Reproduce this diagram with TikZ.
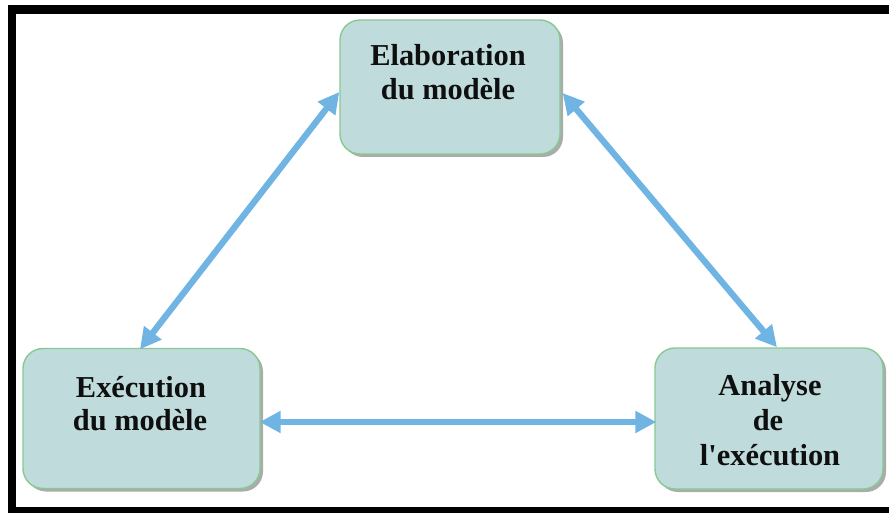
\documentclass[tikz,border=0pt]{standalone}
\usepackage{fontspec}
\setmainfont{Liberation Serif}
\usetikzlibrary{arrows.meta,shadows}

\definecolor{boxfill}{RGB}{192,219,219}
\definecolor{boxline}{RGB}{134,202,146}
\definecolor{flow}{RGB}{112,180,228}
\definecolor{ink}{RGB}{15,15,15}

\tikzset{
  stage/.style={draw=boxline, line width=1.4pt, fill=boxfill,
    rounded corners=20pt, inner sep=0pt,
    drop shadow={shadow xshift=3pt, shadow yshift=-3pt,
      fill=black!55, opacity=0.6}},
  caption/.style={font=\fontsize{30.4}{34}\selectfont\bfseries,
    text=ink, inner sep=0pt, anchor=base},
  link/.style={draw=flow, line width=6.3pt,
    {Triangle[length=21pt,width=21pt]}-{Triangle[length=21pt,width=21pt]}},
}

\begin{document}
\begin{tikzpicture}[x=1pt,y=-1pt]
  \useasboundingbox (0,0) rectangle (889,513);

  % thick black frame (right side runs off the page)
  \fill[black] (8,5) rectangle (889,14);
  \fill[black] (8,5) rectangle (16,513);
  \fill[black] (8,507) rectangle (889,513);

  % the three stages of the cycle
  \node[stage, minimum width=220pt, minimum height=134pt] (elab) at (450,87) {};
  \node[stage, minimum width=237pt, minimum height=140pt] (exec) at (141.5,418.5) {};
  \node[stage, minimum width=228pt, minimum height=141pt] (anal) at (769,418.5) {};

  % labels
  \node[caption] (elab1) at (448,66) {Elaboration};
  \node[caption] (elab2) at (448,100) {du modèle};
  \node[caption] (exec1) at (141,397) {Exécution};
  \node[caption] (exec2) at (140,430) {du modèle};
  \node[caption] (anal1) at (770,395) {Analyse};
  \node[caption] (anal2) at (768,430) {de};
  \node[caption] (anal3) at (770,465) {l\textquotesingle exécution};

  % attachment points on the stage borders
  \coordinate (pA) at ([shift={(-1.5,1.5)}]exec.north);
  \coordinate (pB) at ([shift={(0,5)}]elab.west);
  \coordinate (pC) at ([shift={(2,6)}]elab.east);
  \coordinate (pD) at ([shift={(8,0)}]anal.north);
  \coordinate (pE) at ([shift={(-1,3.5)}]exec.east);
  \coordinate (pF) at ([shift={(2,3.5)}]anal.west);

  % two-way links
  \draw[link] (pA) -- (pB);
  \draw[link] (pC) -- (pD);
  \draw[link] (pE) -- (pF);
\end{tikzpicture}
\end{document}
